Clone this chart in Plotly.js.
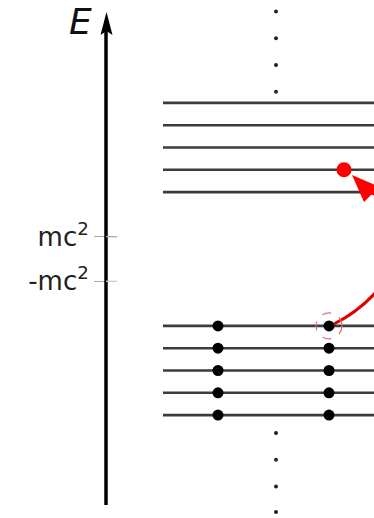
<!DOCTYPE html>
<html>
<head>
<meta charset="utf-8">
<script src="https://cdn.plot.ly/plotly-3.0.1.min.js"></script>
<style>html,body{margin:0;padding:0;background:#fff;}#chart{width:374px;height:518px;}</style>
</head>
<body>
<div id="chart"></div>
<script>
// Energy levels in units of mc^2 spacing
const upperLevels = [3, 4, 5, 6, 7];
const lowerLevels = [-3, -4, -5, -6, -7];
const topEllipsis = [7.5, 8.7, 9.9, 11.1];
const bottomEllipsis = [-7.8, -9.0, -10.2, -11.35];
const tickVals = [1, -1];
const tickLabels = ['mc<sup>2</sup>', '-mc<sup>2</sup>'];
const electronColumns = [218, 329];
const ellipsisColumn = 276;
const particle = {x: 344, level: 4};
const hole = {x: 329, level: -3};

// pixel <-> energy helpers for decorative geometry
const PX_PER_UNIT = 22.3, CENTER = 259;
const E = py => (CENTER - py) / PX_PER_UNIT;

const lineX0 = 163, lineX1 = 380;
const lvX = [], lvY = [];
[...upperLevels, ...lowerLevels].forEach(l => { lvX.push(lineX0, lineX1, null); lvY.push(l, l, null); });

const elX = [], elY = [];
electronColumns.forEach(cx => lowerLevels.forEach(l => { elX.push(cx); elY.push(l); }));

const traces = [
  {x: lvX, y: lvY, mode: 'lines', line: {color: '#3c3c3c', width: 2.6}, hoverinfo: 'skip', cliponaxis: false},
  {x: elX, y: elY, mode: 'markers', marker: {color: '#000', size: 11}, cliponaxis: false},
  {x: topEllipsis.concat(bottomEllipsis).map(() => ellipsisColumn), y: topEllipsis.concat(bottomEllipsis),
   mode: 'markers', marker: {color: '#222', size: 4}, cliponaxis: false},
  {x: [particle.x], y: [particle.level], mode: 'markers', marker: {color: '#ff0000', size: 15}, cliponaxis: false}
];

const ax = 106;
const hx = hole.x, hy = hole.level;
const curve = `M ${hx+5},${E(324)} C ${398},${E(292)} ${430},${E(215)} ${372},${E(193)}`;
const arrowHead = `M 352,${E(175)} L 364,${E(202)} L 371,${E(195)} L 382,${E(188)} Z`;

const shapes = [
  {type: 'line', xref: 'x', yref: 'y', x0: ax, x1: ax, y0: E(505), y1: E(30), line: {color: '#000', width: 3.5}},
  {type: 'path', xref: 'x', yref: 'y', path: `M ${ax-5.5},${E(35)} L ${ax+0.5},${E(12)} L ${ax+6.5},${E(35)} L ${ax+0.5},${E(31)} Z`, fillcolor: '#000', line: {width: 0}},
  {type: 'line', xref: 'x', yref: 'y', x0: ax, x1: ax + 11, y0: tickVals[0], y1: tickVals[0], line: {color: '#aaa', width: 1.3}},
  {type: 'line', xref: 'x', yref: 'y', x0: ax, x1: ax + 11, y0: tickVals[1], y1: tickVals[1], line: {color: '#ccc', width: 1.3}},
  {type: 'path', xref: 'x', yref: 'y', path: curve, line: {color: '#e00000', width: 3}},
  {type: 'path', xref: 'x', yref: 'y', path: arrowHead, fillcolor: '#ff0000', line: {width: 0}},
  {type: 'circle', xref: 'x', yref: 'y', x0: hx - 13, x1: hx + 13, y0: hy - 13 / PX_PER_UNIT, y1: hy + 13 / PX_PER_UNIT,
   line: {color: '#e07070', width: 1.2, dash: 'dash'}}
];

const layout = {
  width: 374, height: 518,
  margin: {l: 0, r: 0, t: 0, b: 0},
  paper_bgcolor: '#fff', plot_bgcolor: '#fff',
  showlegend: false,
  xaxis: {range: [0, 374], visible: false, fixedrange: true},
  yaxis: {range: [E(518), E(0)], anchor: 'free', position: ax / 374, automargin: false,
          showline: false, showgrid: false, zeroline: false,
          ticks: 'outside', ticklen: 12, tickwidth: 1.3, tickcolor: '#aaa',
          tickvals: tickVals, ticktext: tickLabels,
          tickfont: {family: 'DejaVu Sans', size: 26, color: '#222'}, fixedrange: true},
  shapes: shapes,
  annotations: [{x: 80, y: E(21), xref: 'x', yref: 'y', text: '<i>E</i>', showarrow: false,
                 font: {family: 'DejaVu Sans', size: 36, color: '#111'}}]
};

Plotly.newPlot('chart', traces, layout, {displayModeBar: false, staticPlot: true});
</script>
</body>
</html>
